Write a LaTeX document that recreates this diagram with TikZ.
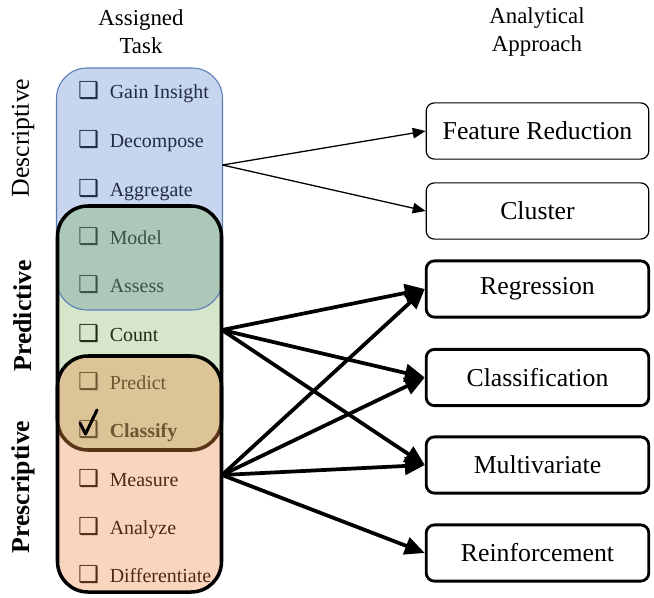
\documentclass[tikz,border=0pt]{standalone}
\usepackage{fontspec}
\setmainfont{Liberation Serif}
\newfontfamily\dingfont{DejaVu Sans}
\usetikzlibrary{arrows.meta}

\definecolor{descfill}{HTML}{C8D5EE}
\definecolor{overlapteal}{HTML}{ABC8B9}
\definecolor{predfill}{HTML}{D6E6CA}
\definecolor{overlaptan}{HTML}{DCC497}
\definecolor{prescfill}{HTML}{FAD5BE}
\definecolor{descline}{HTML}{5A7DB5}
\definecolor{tanline}{HTML}{5B3417}
\definecolor{desctext}{HTML}{1F2B47}
\definecolor{tealtext}{HTML}{3B5248}
\definecolor{counttext}{HTML}{1F2B12}
\definecolor{tantext}{HTML}{6D5631}
\definecolor{presctext}{HTML}{4C2A17}

\newcommand{\cbox}{{\dingfont\bfseries\fontsize{20}{20}\selectfont ❑}\hspace{9pt}}

\begin{document}
\begin{tikzpicture}[x=0.03cm,y=-0.03cm,
    task/.style={anchor=base west, inner sep=0pt, font=\fontsize{17}{20}\selectfont},
    header/.style={align=center, font=\fontsize{19.5}{24}\selectfont},
    side/.style={rotate=90, font=\fontsize{22}{26}\selectfont},
    approach/.style={draw, rounded corners=7pt, minimum width=190pt, minimum height=48pt,
      line width=1pt, font=\fontsize{22}{26}\selectfont},
    bold approach/.style={approach, line width=2.4pt},
    thin arrow/.style={-{Triangle[length=11pt,width=9pt]}, line width=1.1pt},
    thick arrow/.style={-{Triangle[length=17pt,width=15pt]}, line width=3.2pt}]
  \useasboundingbox (0,0) rectangle (654,597);

  % Define boxes for descriptive, predictive and prescriptive tasks
  \def\descBox{[rounded corners=26pt] (56.5,68) rectangle (222.5,310)}
  \def\predBox{[rounded corners=26pt] (57.5,206) rectangle (221.5,450)}
  \def\prescBox{[rounded corners=26pt] (57.5,356) rectangle (221.5,592)}

  \fill[descfill] \descBox;
  \fill[predfill] \predBox;

  % Overlap of descriptive and predictive
  \begin{scope}
    \clip \predBox;
    \fill[overlapteal] \descBox;
  \end{scope}
  \draw[descline, line width=0.9pt] \descBox;
  \draw[line width=3pt] \predBox;

  \fill[prescfill] \prescBox;

  % Overlap of predictive and prescriptive
  \begin{scope}
    \clip \prescBox;
    \fill[overlaptan] \predBox;
    \draw[tanline, line width=3pt] \predBox;
  \end{scope}
  \draw[line width=3pt] \prescBox;

  % Headers and side labels
  \node[header] (assigned) at (141,32) {Assigned\\Task};
  \node[header] (analytical) at (537,32) {Analytical\\Approach};
  \node[side] (descriptive) at (23,138) {Descriptive};
  \node[side, font=\fontsize{22}{26}\selectfont\bfseries] (predictive) at (23,316) {Predictive};
  \node[side, font=\fontsize{22}{26}\selectfont\bfseries] (prescriptive) at (23,487) {Prescriptive};

  % Tasks
  \node[task, text=desctext] (gain) at (78,99) {\cbox Gain Insight};
  \node[task, text=desctext] (decompose) at (78,147.5) {\cbox Decompose};
  \node[task, text=desctext] (aggregate) at (78,196) {\cbox Aggregate};
  \node[task, text=tealtext] (model) at (78,244) {\cbox Model};
  \node[task, text=tealtext] (assess) at (78,292.5) {\cbox Assess};
  \node[task, text=counttext] (count) at (78,341) {\cbox Count};
  \node[task, text=tantext] (predict) at (78,389) {\cbox Predict};
  \node[task, text=tantext, font=\fontsize{17}{20}\selectfont\bfseries] (classify) at (78,437.5) {\cbox Classify};
  \node[task, text=presctext] (measure) at (78,486) {\cbox Measure};
  \node[task, text=presctext] (analyze) at (78,534) {\cbox Analyze};
  \node[task, text=presctext] (differentiate) at (78,582.5) {\cbox Differentiate};
  % tick over the classify box
  \draw[line width=2.6pt, line cap=round, line join=round] (80,423) -- (85.5,434) -- (97,410);

  % Analytical approaches
  \node[approach] (freduce) at (537.5,131) {Feature Reduction};
  \node[approach] (cluster) at (537.5,211) {Cluster};
  \node[bold approach] (regress) at (537.5,289) {Regression};
  \node[bold approach] (classif) at (537.5,377.5) {Classification};
  \node[bold approach] (multivar) at (537.5,465) {Multivariate};
  \node[bold approach] (reinforce) at (537.5,553) {Reinforcement};

  % Connectors
  \coordinate (descout) at (222.5,165);
  \coordinate (countout) at (222,330);
  \coordinate (measout) at (222,475);
  \draw[thin arrow] (descout) -- (freduce.west);
  \draw[thin arrow] (descout) -- (cluster.west);
  \draw[thick arrow] (countout) -- (regress.west);
  \draw[thick arrow] (countout) -- (classif.west);
  \draw[thick arrow] (countout) -- (multivar.west);
  \draw[thick arrow] (measout) -- (regress.west);
  \draw[thick arrow] (measout) -- (classif.west);
  \draw[thick arrow] (measout) -- (multivar.west);
  \draw[thick arrow] (measout) -- (reinforce.west);
\end{tikzpicture}
\end{document}
